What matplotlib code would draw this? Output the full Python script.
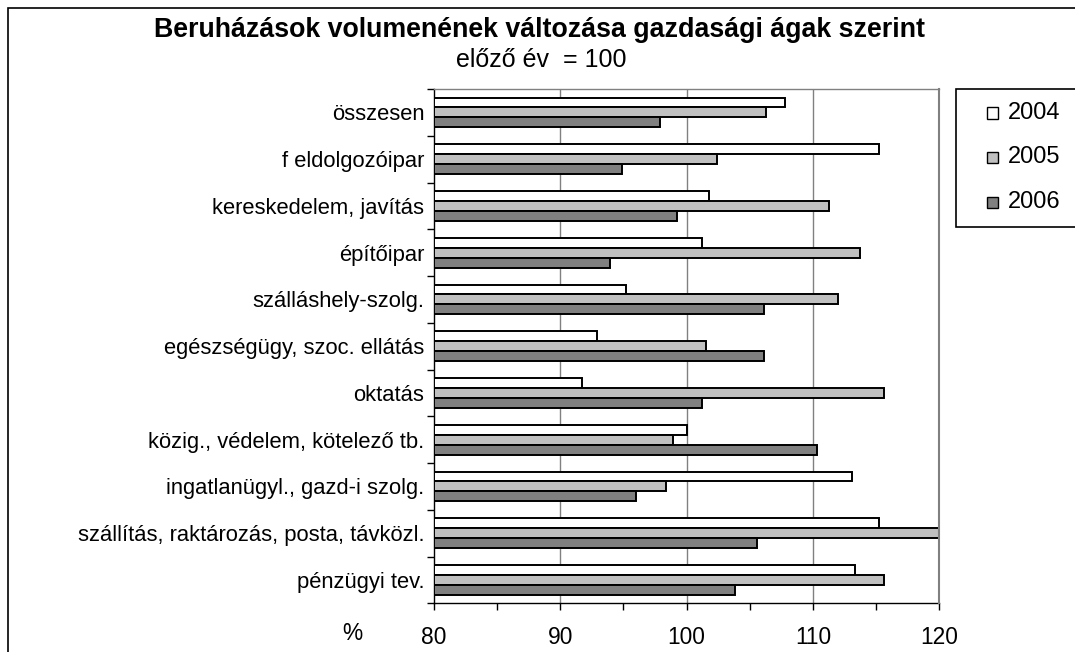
import matplotlib
matplotlib.use("Agg")
import matplotlib.pyplot as plt
from matplotlib.patches import Rectangle
from matplotlib.ticker import FixedLocator, NullFormatter, FixedFormatter
import numpy as np

plt.rcParams['font.family'] = ['Liberation Sans', 'DejaVu Sans']

categories = [
    "összesen",
    "f eldolgozóipar",
    "kereskedelem, javítás",
    "építőipar",
    "szálláshely-szolg.",
    "egészségügy, szoc. ellátás",
    "oktatás",
    "közig., védelem, kötelező tb.",
    "ingatlanügyl., gazd-i szolg.",
    "szállítás, raktározás, posta, távközl.",
    "pénzügyi tev.",
]
years = ["2004", "2005", "2006"]
v2004 = [107.8, 115.2, 101.8, 101.2, 95.2, 92.9, 91.7, 100.0, 113.1, 115.2, 113.3]
v2005 = [106.3, 102.4, 111.3, 113.7, 112.0, 101.5, 115.6, 98.9, 98.4, 124.0, 115.6]
v2006 = [97.9, 94.9, 99.2, 93.9, 106.1, 106.1, 101.2, 110.3, 96.0, 105.6, 103.8]
series = [v2004, v2005, v2006]
colors = ["#FFFFFF", "#C0C0C0", "#808080"]
xticks = [80, 90, 100, 110, 120]

W, H = 1075, 652
fig = plt.figure(figsize=(W / 100, H / 100), dpi=100)
ax = fig.add_axes([434 / W, 1 - 603.3 / H, (939.3 - 434) / W, (603.3 - 89) / H])

base = 80
y = np.arange(len(categories))
bh = 0.212
for i, (vals, c) in enumerate(zip(series, colors)):
    ax.barh(y + (i - 1) * bh, np.array(vals) - base, left=base, height=bh,
            color=c, edgecolor="black", linewidth=1.4, zorder=3)

ax.set_xlim(80, 120)
ax.set_ylim(len(categories) - 0.5, -0.5)

ax.xaxis.set_major_locator(FixedLocator(xticks))
ax.xaxis.set_minor_locator(FixedLocator([85, 95, 105, 115]))
ax.set_xticklabels([str(t) for t in xticks], fontsize=16.4)
ax.tick_params(axis="x", which="both", direction="out", length=5, width=1, pad=11)

ax.yaxis.set_major_locator(FixedLocator(np.arange(-0.5, len(categories), 1.0)))
ax.yaxis.set_major_formatter(NullFormatter())
ax.yaxis.set_minor_locator(FixedLocator(y))
ax.yaxis.set_minor_formatter(FixedFormatter(categories))
ax.tick_params(axis="y", which="major", direction="out", length=5, width=1)
ax.tick_params(axis="y", which="minor", length=0, pad=7, labelsize=15.8)

for xv in xticks[1:-1]:
    ax.axvline(xv, color="#808080", linewidth=1.0, zorder=1)

ax.spines["left"].set_color("black")
ax.spines["bottom"].set_color("black")
ax.spines["top"].set_color("#808080")
ax.spines["right"].set_color("#808080")
for s in ax.spines.values():
    s.set_linewidth(1.0)
ax.spines["right"].set_linewidth(1.5)
ax.spines["right"].set_zorder(4)

# title
fig.text(539 / W, 1 - 30 / H, "Beruházások volumenének változása gazdasági ágak szerint",
         ha="center", va="center", fontsize=19.3, fontweight="bold")
fig.text(541 / W, 1 - 60 / H, "előző év  = 100", ha="center", va="center", fontsize=18)
fig.text(352 / W, 1 - 633 / H, "%", ha="center", va="center", fontsize=16.4)

# outer border
fig.add_artist(Rectangle((8 / W, -0.1), 1.2, 1 - 8 / H + 0.1, transform=fig.transFigure,
                         fill=False, edgecolor="black", linewidth=1.2))

# legend box
fig.add_artist(Rectangle((956 / W, 1 - 227 / H), 0.2, (227 - 89) / H, transform=fig.transFigure,
                         facecolor="white", edgecolor="black", linewidth=1.2, zorder=5))
rows = [113, 157, 202]
for yr, c, ry in zip(years, colors, rows):
    fig.add_artist(Rectangle((987 / W, 1 - (ry + 5.5) / H), 11 / W, 11 / H,
                             transform=fig.transFigure, facecolor=c,
                             edgecolor="black", linewidth=1.0, zorder=6))
    fig.text(1008 / W, 1 - ry / H, yr, ha="left", va="center", fontsize=17, zorder=6)

fig.savefig("out.png", dpi=100)
